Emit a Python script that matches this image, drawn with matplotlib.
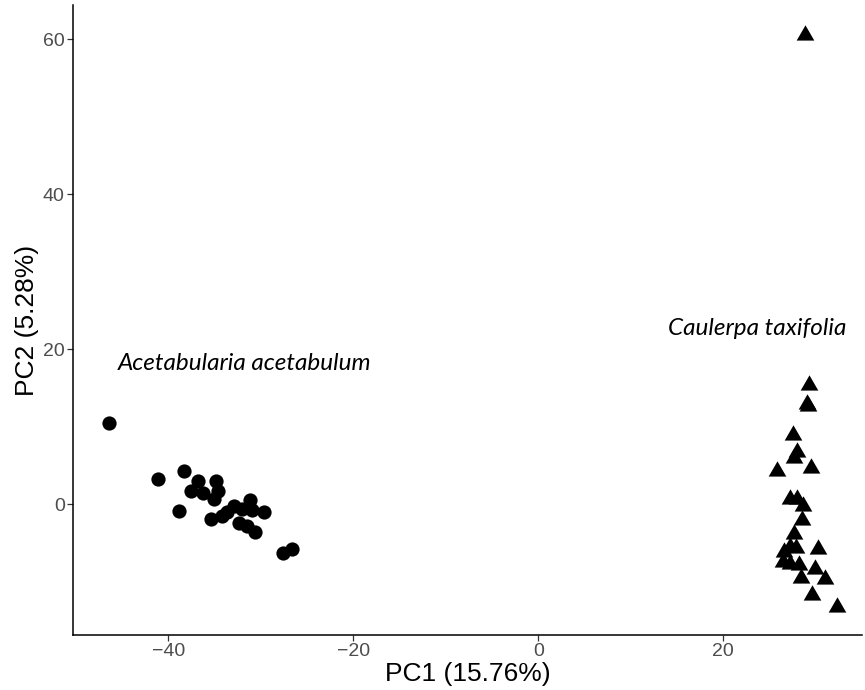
import numpy as np
import matplotlib.pyplot as plt

# PCA scores
acet_pc1 = [-46.4, -41.1, -38.3, -36.8, -34.8, -37.5, -36.2, -34.6, -35.1, -38.8,
            -35.4, -34.2, -33.6, -32.9, -32.0, -31.2, -31.0, -29.7, -32.4, -31.5,
            -30.6, -27.6, -26.6]
acet_pc2 = [10.5, 3.2, 4.3, 3.0, 3.0, 1.7, 1.4, 1.7, 0.6, -0.9,
            -1.9, -1.5, -1.0, -0.3, -0.6, 0.5, -0.8, -1.0, -2.5, -2.8,
            -3.6, -6.3, -5.8]

caul_pc1 = [29.3, 29.0, 29.2, 27.5, 28.0, 27.6, 29.5, 25.8, 27.2, 28.0,
            28.6, 28.5, 27.6, 27.2, 27.9, 30.2, 26.6, 26.5, 27.2, 28.2,
            29.9, 28.4, 31.0, 29.6, 32.3, 28.8]
caul_pc2 = [15.3, 12.9, 12.7, 8.9, 6.7, 5.9, 4.7, 4.2, 0.7, 0.7,
            -0.2, -2.1, -3.9, -5.5, -5.7, -5.8, -6.2, -7.5, -7.7, -7.9,
            -8.4, -9.5, -9.7, -11.7, -13.3, 60.5]

x_ticks = [-40, -20, 0, 20]
y_ticks = [0, 20, 40, 60]

species = ["Acetabularia acetabulum", "Caulerpa taxifolia"]
label_pos = [(-31.8, 18.1), (23.7, 22.6)]

# ggplot-style triangle, centred on its centroid
tri = [(0, 1.555), (1.347, -0.778), (-1.347, -0.778), (0, 1.555)]

fig = plt.figure(figsize=(8.65, 6.9), dpi=100)
ax = fig.add_axes([73 / 865, 1 - 635 / 690, (862 - 73) / 865, (635 - 5) / 690])

ax.scatter(acet_pc1, acet_pc2, s=105, marker="o", color="black", linewidths=0)
ax.scatter(caul_pc1, caul_pc2, s=215, marker=tri, color="black", linewidths=0)

for name, (lx, ly) in zip(species, label_pos):
    ax.text(lx, ly, name, fontsize=17.5, style="italic", family="Lato",
            ha="center", va="center")

ax.set_xlim(-50.3, 35.0)
ax.set_ylim(-16.9, 64.4)
ax.set_xticks(x_ticks)
ax.set_yticks(y_ticks)

for side in ["top", "right"]:
    ax.spines[side].set_visible(False)
for side in ["left", "bottom"]:
    ax.spines[side].set_linewidth(1.1)
    ax.spines[side].set_color("black")

ax.tick_params(axis="both", length=4, width=0.9, color="#333333",
               labelcolor="#4D4D4D", labelsize=14, pad=2)
for lab in ax.get_xticklabels() + ax.get_yticklabels():
    lab.set_family("Liberation Sans")

ax.set_xlabel("PC1 (15.76%)", fontsize=19, family="Liberation Sans", labelpad=1)
ax.set_ylabel("PC2 (5.28%)", fontsize=19, family="Liberation Sans", labelpad=3)

fig.savefig("out.png", dpi=100)
